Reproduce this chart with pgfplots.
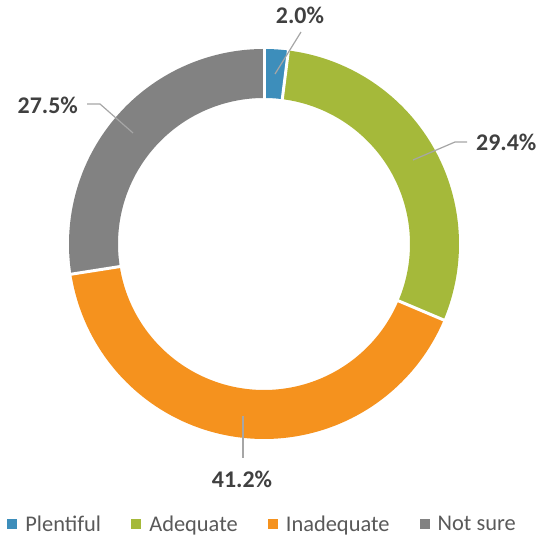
\documentclass[border=0pt]{standalone}
\usepackage{fontspec}
\setmainfont{Carlito}
\usepackage{pgfplots}
\pgfplotsset{compat=1.18}
\definecolor{cblue}{HTML}{3D8EBB}
\definecolor{cgreen}{HTML}{A5B93A}
\definecolor{corange}{HTML}{F5921E}
\definecolor{cgrey}{HTML}{828282}
\definecolor{labtext}{HTML}{404040}
\definecolor{legtext}{HTML}{595959}
\definecolor{leader}{HTML}{A6A6A6}

\begin{document}
\begin{tikzpicture}
% shares, clockwise from 12 o'clock
\pgfmathsetmacro{\vA}{2.0}
\pgfmathsetmacro{\vB}{29.4}
\pgfmathsetmacro{\vC}{41.2}
\pgfmathsetmacro{\vD}{27.5}
\pgfmathsetmacro{\tot}{\vA+\vB+\vC+\vD}
\pgfmathsetmacro{\aA}{90}
\pgfmathsetmacro{\aB}{\aA-360*\vA/\tot}
\pgfmathsetmacro{\aC}{\aB-360*\vB/\tot}
\pgfmathsetmacro{\aD}{\aC-360*\vC/\tot}
\pgfmathsetmacro{\aE}{\aD-360*\vD/\tot}
\begin{axis}[
  x=1bp, y=1bp,
  xmin=0, xmax=539, ymin=0, ymax=540,
  hide axis, clip=false,
  legend image code/.code={\fill[#1] (0bp,-4.5bp) rectangle (9bp,4.5bp); \path[draw=none] (0bp,0bp) -- (18bp,0bp);},
  legend style={at={(axis cs:7,16)}, anchor=west, draw=none, fill=none,
    inner sep=0pt, nodes={inner sep=0pt},
    legend columns=4, font=\fontsize{22.5}{26}\selectfont, text=legtext,
    /tikz/every even column/.append style={column sep=30bp}},
]
\coordinate (bl) at (axis cs:0,0);
\coordinate (tr) at (axis cs:539,540);
% ring segments: a thick arc at the mid radius
\addplot[cblue, line width=49bp, domain=\aB:\aA, samples=10, forget plot]
  ({264+170.5*cos(x)}, {296+170.5*sin(x)});
\addplot[cgreen, line width=49bp, domain=\aC:\aB, samples=100, forget plot]
  ({264+170.5*cos(x)}, {296+170.5*sin(x)});
\addplot[corange, line width=49bp, domain=\aD:\aC, samples=140, forget plot]
  ({264+170.5*cos(x)}, {296+170.5*sin(x)});
\addplot[cgrey, line width=49bp, domain=\aE:\aD, samples=100, forget plot]
  ({264+170.5*cos(x)}, {296+170.5*sin(x)});
% white gaps between segments
\foreach \a in {\aA,\aB,\aC,\aD}{
  \addplot[white, line width=3bp, domain=140:202, samples=2, forget plot]
    ({264+x*cos(\a)}, {296+x*sin(\a)});
}
% leader lines
\addplot[leader, line width=1.2bp, forget plot] coordinates {(275,466) (301,508)};
\addplot[leader, line width=1.2bp, forget plot] coordinates {(413,380) (455,398) (467,398)};
\addplot[leader, line width=1.2bp, forget plot] coordinates {(133,407) (100,436) (87,436)};
\addplot[leader, line width=1.2bp, forget plot] coordinates {(243,124) (243,82)};
\node[font=\fontsize{24}{28}\selectfont\bfseries, text=labtext] at (axis cs:300,525) {2.0\%};
\node[font=\fontsize{24}{28}\selectfont\bfseries, text=labtext, anchor=west, inner sep=0pt] at (axis cs:476,398) {29.4\%};
\node[font=\fontsize{24}{28}\selectfont\bfseries, text=labtext, anchor=east, inner sep=0pt] at (axis cs:78,435) {27.5\%};
\node[font=\fontsize{24}{28}\selectfont\bfseries, text=labtext] at (axis cs:242,61) {41.2\%};
\addlegendimage{cblue}
\addlegendimage{cgreen}
\addlegendimage{corange}
\addlegendimage{cgrey}
\legend{Plentiful, Adequate, Inadequate, Not sure}
\end{axis}
\pgfresetboundingbox
\path (bl) rectangle (tr);
\end{tikzpicture}
\end{document}
